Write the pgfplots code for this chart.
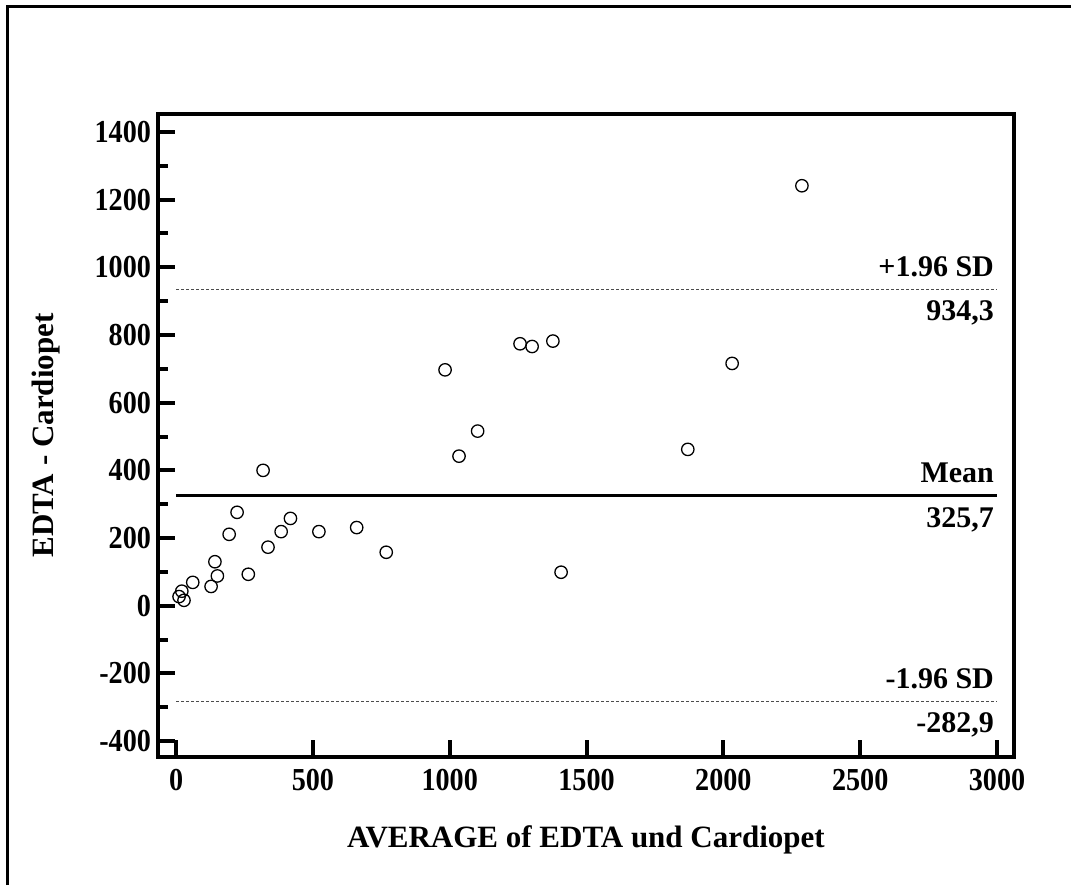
\documentclass[border=0pt]{standalone}
\usepackage{fontspec}
\setmainfont{Liberation Serif}
\newfontfamily\tickfam[FakeStretch=0.88]{Liberation Serif}
\usepackage{pgfplots}
\pgfplotsset{compat=1.18}
\newcommand{\tickfont}{\tickfam\fontsize{16}{19}\selectfont\bfseries}
\newcommand{\linefont}{\fontsize{15}{18}\selectfont\bfseries}
\newcommand{\labfont}{\fontsize{15.5}{18}\selectfont\bfseries}
\begin{document}
\begin{tikzpicture}[x=1pt,y=1pt]
\useasboundingbox (0,0) rectangle (535.5,442.5);
\draw[line width=1.5pt] (3.5,0) -- (3.5,439) -- (535.5,439);
\begin{axis}[
  at={(79pt,64pt)}, anchor=south west,
  scale only axis, width=428pt, height=321.5pt,
  xmin=-66, xmax=3062, ymin=-447, ymax=1453,
  axis line style={line width=2pt},
  tick pos=left, tick align=inside,
  major tick length=8.5pt, minor tick length=4.75pt,
  every tick/.style={line width=2pt, black},
  xtick={0,500,...,3000},
  ytick={-400,-200,...,1400},
  minor ytick={-300,-100,...,1300},
  scaled ticks=false,
  /pgf/number format/assume math mode=true,
  /pgf/number format/1000 sep={},
  ticklabel style={font=\tickfont},
  xticklabel style={yshift=-2.5pt},
  xlabel={AVERAGE of EDTA und Cardiopet},
  ylabel={EDTA - Cardiopet},
  xlabel style={font=\labfont, at={(axis description cs:0.5,-0.1415)}, anchor=base},
  ylabel style={font=\labfont, at={(axis description cs:-0.1215,0.5)}, anchor=base, rotate=0},
  clip=false,
]
\addplot[only marks, mark=o, mark size=3.1pt, mark options={line width=0.65pt, black}] coordinates {
(11,27) (21,43) (29,16) (61,69) (128,57) (142,130) (151,88) (194,211) (223,276)
(264,93) (318,400) (336,173) (384,219) (418,258) (522,219) (660,231) (768,158)
(1034,442) (983,697) (1102,516) (1257,774) (1301,766) (1377,782) (1407,99)
(1870,462) (2032,716) (2287,1241)
};
\addplot[black, line width=1.75pt] coordinates {(0,325.7) (3000,325.7)};
\addplot[gray!60!black, line width=0.5pt, dash pattern=on 1.5pt off 1pt] coordinates {(0,934.3) (3000,934.3)};
\addplot[gray!60!black, line width=0.5pt, dash pattern=on 1.5pt off 1pt] coordinates {(0,-282.9) (3000,-282.9)};
\node[anchor=base east, inner sep=0, yshift=6.5pt, font=\linefont] at (axis cs:2990,934.3) {+1.96 SD};
\node[anchor=base east, inner sep=0, yshift=-15.5pt, font=\linefont] at (axis cs:2990,934.3) {934,3};
\node[anchor=base east, inner sep=0, yshift=6.5pt, font=\linefont] at (axis cs:2990,325.7) {Mean};
\node[anchor=base east, inner sep=0, yshift=-16pt, font=\linefont] at (axis cs:2990,325.7) {325,7};
\node[anchor=base east, inner sep=0, yshift=6.5pt, font=\linefont] at (axis cs:2990,-282.9) {-1.96 SD};
\node[anchor=base east, inner sep=0, yshift=-15.5pt, font=\linefont] at (axis cs:2990,-282.9) {-282,9};
\end{axis}
\end{tikzpicture}
\end{document}
